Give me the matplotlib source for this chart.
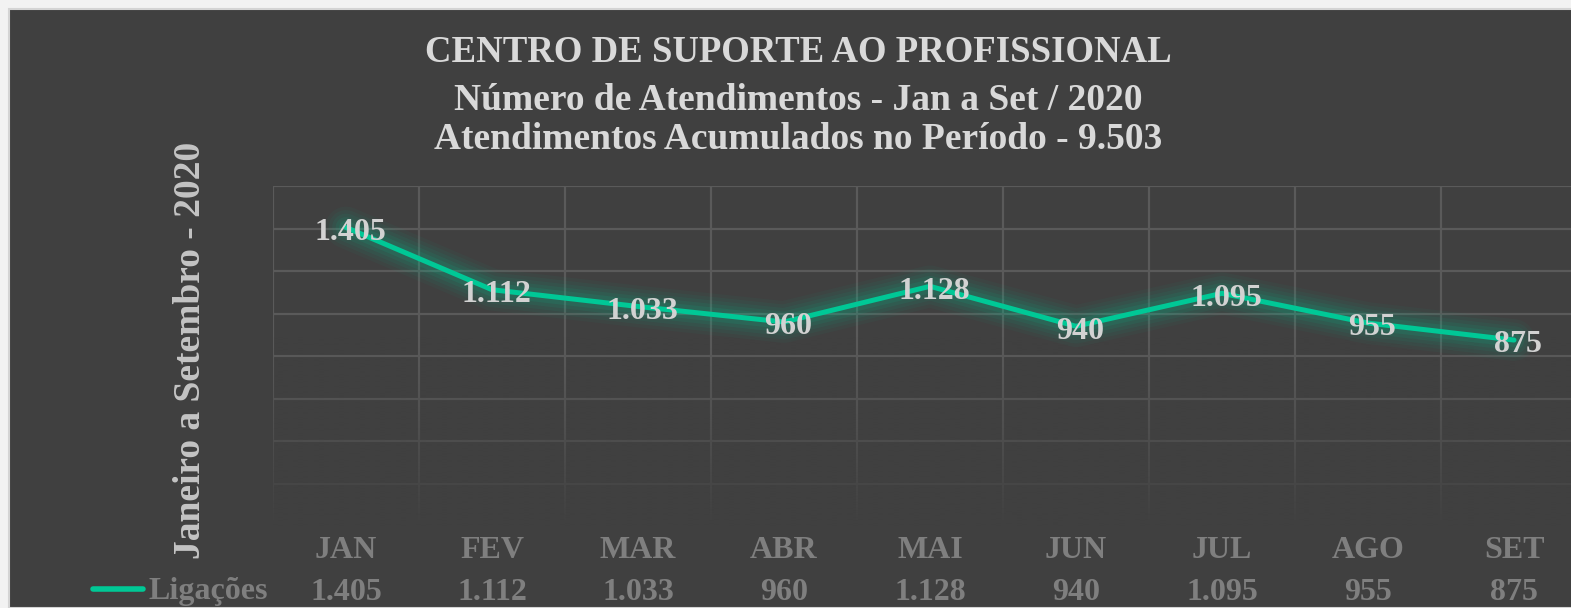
import matplotlib
matplotlib.use("Agg")
import matplotlib.pyplot as plt
import matplotlib.transforms as mtransforms
from matplotlib.patches import Rectangle
import numpy as np

months = ["JAN", "FEV", "MAR", "ABR", "MAI", "JUN", "JUL", "AGO", "SET"]
ligacoes = [1405, 1112, 1033, 960, 1128, 940, 1095, 955, 875]
series_name = "Ligações"
title_lines = ["CENTRO DE SUPORTE AO PROFISSIONAL",
               "Número de Atendimentos - Jan a Set / 2020",
               "Atendimentos Acumulados no Período - 9.503"]
ylabel = "Janeiro a Setembro - 2020"

def fmt(v):
    return f"{v:,}".replace(",", ".")

W, H = 1571, 608
plt.rcParams['font.family'] = ['Liberation Serif', 'DejaVu Serif']
fig = plt.figure(figsize=(W / 100, H / 100), dpi=100, facecolor="#f2f2f2")

BG = "#404040"
# chart background panel
fig.patches.append(Rectangle((9 / W, 0), 1.0, 1 - 9 / H, transform=fig.transFigure,
                             facecolor=BG, edgecolor="#d4d4d4", linewidth=1.5, zorder=-5))

def fx(px):
    return px / W

def fy(py):
    return 1 - py / H

left, right, top, bottom = 273, 1587, 186, 526
ax = fig.add_axes([fx(left), fy(bottom), (right - left) / W, (bottom - top) / H])
ax.set_zorder(1)
ax.set_facecolor("none")
x = np.arange(len(months))
ax.set_xlim(-0.5, len(months) - 0.5)
ax.set_ylim(0, 1600)
for s in ax.spines.values():
    s.set_visible(False)
ax.set_xticks([])
ax.set_yticks([])

gcol = "#5a5a5a"
for yv in range(200, 1601, 200):
    ax.axhline(yv, color=gcol, lw=1.6, zorder=1)
for xv in np.arange(-0.5, len(months), 1.0):
    ax.axvline(xv, color=gcol, lw=1.6, zorder=1)

# fade gridlines towards the bottom
grad = np.zeros((256, 1, 4))
bgrgb = matplotlib.colors.to_rgb(BG)
grad[..., 0], grad[..., 1], grad[..., 2] = bgrgb
yy = np.linspace(0, 1600, 256)
alpha = np.clip((900 - yy) / 900, 0, 1) ** 1.2
grad[:, 0, 3] = alpha
ax.imshow(grad, extent=(-0.5, len(months) - 0.5, 0, 1600), origin="lower",
          aspect="auto", zorder=2, interpolation="bilinear")

teal = "#00c896"
for w, a in [(30, 0.04), (25, 0.05), (20, 0.06), (15, 0.08), (10, 0.10)]:
    ax.plot(x, ligacoes, color=teal, lw=w, alpha=a, solid_capstyle="round",
            solid_joinstyle="round", zorder=3)
ax.plot(x, ligacoes, color=teal, lw=3.6, solid_capstyle="round",
        solid_joinstyle="round", zorder=4)

for xi, v in zip(x, ligacoes):
    ax.annotate(fmt(v), (xi, v), xytext=(3, -3.5), textcoords="offset points",
                ha="center", va="center", fontsize=23, fontweight="bold",
                color="#d2d2d2", zorder=5)

# title
tcol = "#d9d9d9"
fig.text(fx(798), fy(53), title_lines[0], ha="center", va="center",
         fontsize=26.5, fontweight="bold", color=tcol)
fig.text(fx(798), fy(100), title_lines[1], ha="center", va="center",
         fontsize=27, fontweight="bold", color=tcol)
fig.text(fx(798), fy(139), title_lines[2], ha="center", va="center",
         fontsize=27, fontweight="bold", color=tcol)

# y label
fig.text(fx(190), fy(350), ylabel, rotation=90, ha="center", va="center",
         fontsize=27, fontweight="bold", color="#c4c4c4")

# data table
trans = mtransforms.blended_transform_factory(ax.transData, fig.transFigure)
tabcol = "#7f7f7f"
for xi, m, v in zip(x, months, ligacoes):
    ax.text(xi, fy(550), m, transform=trans, ha="center", va="center",
            fontsize=23, fontweight="bold", color=tabcol, clip_on=False)
    ax.text(xi, fy(592), fmt(v), transform=trans, ha="center", va="center",
            fontsize=23, fontweight="bold", color=tabcol, clip_on=False)

fig.lines.append(matplotlib.lines.Line2D([fx(93), fx(143)], [fy(589), fy(589)],
                                         transform=fig.transFigure, color=teal,
                                         lw=4, solid_capstyle="round"))
fig.text(fx(268), fy(592), series_name, ha="right", va="center",
         fontsize=23, fontweight="bold", color=tabcol)

fig.savefig("out.png", dpi=100, facecolor=fig.get_facecolor())
